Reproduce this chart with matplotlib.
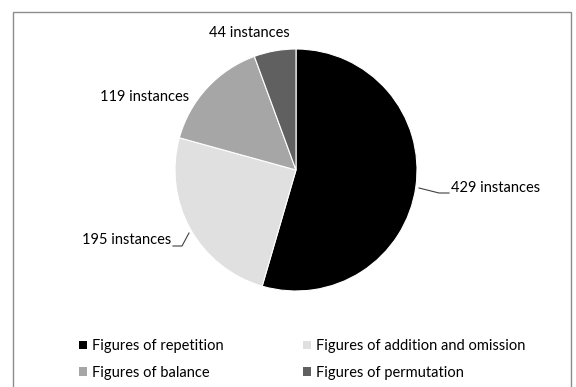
import matplotlib.pyplot as plt
from matplotlib.patches import Rectangle, Patch

labels = ['Figures of repetition', 'Figures of addition and omission',
          'Figures of balance', 'Figures of permutation']
counts = [429, 195, 119, 44]
colors = ['#000000', '#e0e0e0', '#a6a6a6', '#606060']

plt.rcParams['font.family'] = ['Lato', 'DejaVu Sans']

W, H = 576, 387
fig = plt.figure(figsize=(W / 100, H / 100), dpi=100)
ax = fig.add_axes([0, 0, 1, 1])

# outer chart frame (bottom edge is cut off in the original)
ax.add_patch(Rectangle((12.5, -5), 558, H - 11.5 + 5, fill=False,
                       edgecolor='#8c8c8c', linewidth=1.0))

cx, cy, r = 296, H - 170, 121
wedges, _ = ax.pie(counts, colors=colors, startangle=90, counterclock=False,
                   center=(cx, cy), radius=r, frame=True,
                   wedgeprops=dict(edgecolor='white', linewidth=0.8))
ax.set_xlim(0, W)
ax.set_ylim(0, H)
ax.set_aspect('auto')
ax.axis('off')

fs = 10.5
# data labels
ax.text(451, H - 188, f'{counts[0]} instances', fontsize=fs, va='center', ha='left')
ax.plot([419, 439, 449], [H - 188, H - 193, H - 193], color='#404040', lw=0.8)

ax.text(171, H - 240, f'{counts[1]} instances', fontsize=fs, va='center', ha='right')
ax.plot([173, 182, 189], [H - 246, H - 246, H - 233], color='#404040', lw=0.8)

ax.text(145, H - 97, f'{counts[2]} instances', fontsize=fs, va='center', ha='center')
ax.text(249, H - 33, f'{counts[3]} instances', fontsize=fs, va='center', ha='center')

order = [0, 2, 1, 3]
handles = [Patch(facecolor=colors[i], edgecolor='none') for i in order]
fig.legend(handles, [labels[i] for i in order], ncol=2, frameon=False,
           loc='upper left', bbox_to_anchor=(66 / W, 1 - 326 / H),
           fontsize=fs, handlelength=0.55, handleheight=0.55,
           handletextpad=0.35, columnspacing=5.45, labelspacing=0.85)

fig.savefig('out.png', dpi=100)
